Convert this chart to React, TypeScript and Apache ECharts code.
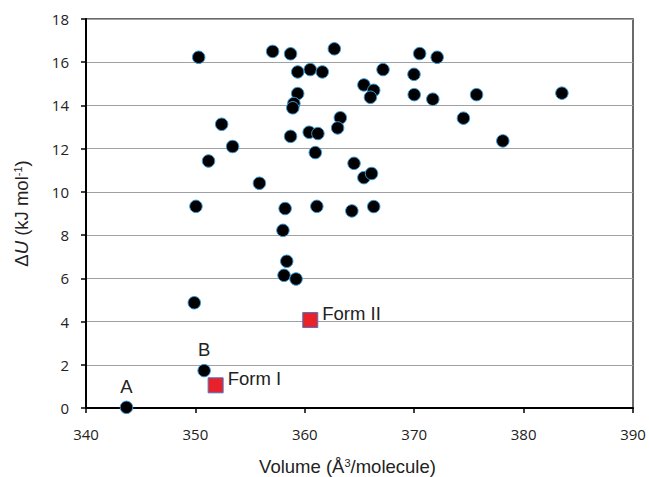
import React, { useEffect, useRef } from "react";
import * as echarts from "echarts";

// Black dots: (volume Å³/molecule, ΔU kJ/mol)
const dotVolume = [
  350.3, 350.05, 352.4, 351.2, 353.4, 355.85, 357.06, 358.7, 359.35, 360.5,
  361.6, 359.35, 359.0, 358.9, 358.7, 360.4, 361.2, 360.96, 358.2, 361.1,
  358.0, 362.7, 370.5, 372.1, 367.15, 369.98, 365.4, 366.3, 366.0, 370.0,
  371.7, 375.7, 383.5, 363.25, 363.0, 374.5, 378.1, 364.5, 365.4, 366.1,
  364.3, 366.3, 358.35, 358.1, 359.2, 349.9,
];
const dotEnergy = [
  16.23, 9.33, 13.13, 11.43, 12.1, 10.4, 16.5, 16.39, 15.55, 15.66,
  15.55, 14.55, 14.09, 13.89, 12.57, 12.76, 12.7, 11.82, 9.23, 9.33,
  8.22, 16.62, 16.4, 16.23, 15.66, 15.44, 14.95, 14.7, 14.38, 14.5,
  14.29, 14.5, 14.57, 13.43, 12.96, 13.41, 12.36, 11.32, 10.66, 10.85,
  9.12, 9.32, 6.79, 6.14, 5.97, 4.87,
];

// Labelled dots
const labeledVolume = [343.7, 350.8];
const labeledEnergy = [0.03, 1.73];
const labeledNames = ["A", "B"];

// Experimental forms (red squares)
const formVolume = [351.85, 360.5];
const formEnergy = [1.05, 4.07];
const formNames = ["Form I", "Form II"];

const xTicks = { min: 340, max: 390, interval: 10 };
const yTicks = { min: 0, max: 18, interval: 2 };

export default function App() {
  const ref = useRef<HTMLDivElement>(null);
  useEffect(() => {
    if (!ref.current) return;
    const chart = echarts.init(ref.current, null, { renderer: "svg" });
    const font = "Liberation Sans, Arial, sans-serif";
    const tickFont = "Open Sans, sans-serif";
    const txt = "#222";
    const dotStyle = { color: "#000", borderColor: "#3a9ad9", borderWidth: 1, opacity: 1 };
    chart.setOption({
      animation: false,
      backgroundColor: "#fff",
      grid: {
        left: 86,
        right: 16,
        top: 19,
        bottom: 69,
        outerBoundsMode: "none",
        containLabel: false,
        show: true,
        borderColor: "#3a3a3a",
        borderWidth: 1.5,
      },
      xAxis: {
        type: "value",
        min: xTicks.min,
        max: xTicks.max,
        interval: xTicks.interval,
        name: "{n|Volume (Å}{s|3}{n|/molecule)}",
        nameLocation: "middle",
        nameGap: 49,
        nameTextStyle: {
          padding: [0, 24, 0, 0],
          rich: {
            n: { fontFamily: font, fontSize: 18.5, color: txt },
            s: { fontFamily: font, fontSize: 11, color: txt, verticalAlign: "top", lineHeight: 18 },
          },
        },
        axisLine: { show: true, lineStyle: { color: "#000", width: 2 } },
        axisTick: { show: true, inside: false, length: 5, lineStyle: { color: "#000", width: 1.5 } },
        axisLabel: { fontFamily: tickFont, fontSize: 15, color: txt, margin: 18 },
        splitLine: { show: false },
      },
      yAxis: {
        type: "value",
        min: yTicks.min,
        max: yTicks.max,
        interval: yTicks.interval,
        name: "{n|Δ}{i|U}{n| (kJ mol}{s|-1}{n|)}",
        nameLocation: "middle",
        nameGap: 55,
        nameRotate: 90,
        nameTextStyle: {
          rich: {
            n: { fontFamily: font, fontSize: 18.5, color: txt },
            i: { fontFamily: font, fontSize: 18.5, color: txt, fontStyle: "italic" },
            s: { fontFamily: font, fontSize: 11, color: txt, verticalAlign: "top", lineHeight: 18 },
          },
        },
        axisLine: { show: true, lineStyle: { color: "#000", width: 2 } },
        axisTick: { show: true, inside: false, length: 5, lineStyle: { color: "#000", width: 1.5 } },
        axisLabel: { fontFamily: tickFont, fontSize: 15, color: txt, margin: 17 },
        splitLine: { show: true, lineStyle: { color: "#9ea2a6", width: 1.2 } },
      },
      series: [
        {
          type: "scatter",
          symbol: "circle",
          symbolSize: 12.5,
          itemStyle: dotStyle,
          data: dotVolume.map((v, i) => [v, dotEnergy[i]]),
          z: 3,
        },
        {
          type: "scatter",
          symbol: "circle",
          symbolSize: 12.5,
          itemStyle: dotStyle,
          data: labeledVolume.map((v, i) => ({ value: [v, labeledEnergy[i]], name: labeledNames[i] })),
          label: {
            show: true,
            position: "top",
            distance: 5,
            formatter: (p: any) => p.name,
            fontFamily: font,
            fontSize: 18.5,
            color: txt,
          },
          z: 3,
        },
        {
          type: "scatter",
          symbol: "rect",
          symbolSize: 15,
          itemStyle: { color: "#e8222b", borderColor: "#4a74c4", borderWidth: 1, opacity: 1 },
          data: formVolume.map((v, i) => ({ value: [v, formEnergy[i]], name: formNames[i] })),
          label: {
            show: true,
            position: "right",
            distance: 4,
            offset: [0, -7],
            formatter: (p: any) => p.name,
            fontFamily: font,
            fontSize: 18.5,
            color: txt,
          },
          z: 4,
        },
      ],
    });
    return () => chart.dispose();
  }, []);
  return (
    <div
      ref={ref}
      style={{ position: "fixed", left: 0, top: 0, width: 649, height: 477 }}
    />
  );
}
